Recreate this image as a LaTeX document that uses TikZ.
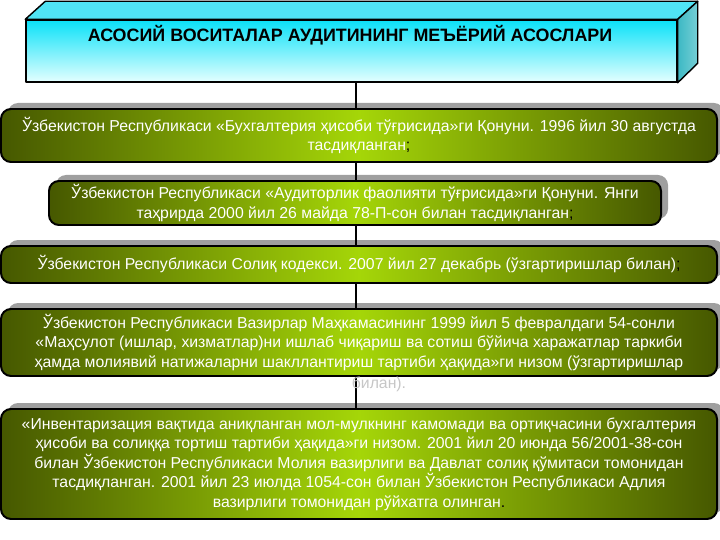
\documentclass[tikz,border=0pt]{standalone}
\usepackage{fontspec}
\setmainfont{Liberation Sans}
\usepackage{tikz}
\usetikzlibrary{calc}
\usetikzlibrary{shadows}
\definecolor{olivedark}{RGB}{70,88,0}
\definecolor{olivelight}{RGB}{165,214,8}
\definecolor{cyantop}{RGB}{10,225,248}
\definecolor{cyanbot}{RGB}{228,255,255}
\definecolor{cyanlid}{RGB}{80,228,245}
\definecolor{cyanside}{RGB}{60,185,196}
\tikzset{
	law/.style={
		rectangle,
		rounded corners=10pt,
		draw=black,
		line width=.7mm,
		left color=olivedark,
		right color=olivedark,
		middle color=olivelight,
		general shadow={shadow xshift=7pt,shadow yshift=6pt,fill=gray!75},
		text=white,
		align=center,
		inner sep=0,
		font=\fontsize{15.8}{19.5}\selectfont,
	},
	face/.style={
		draw=black,
		line width=.5mm,
		line join=round,
	},
	spine/.style={
		line width=.5mm,
	}
}

\begin{document}
\begin{tikzpicture}[x=1pt,y=-1pt]
								
								\useasboundingbox (0,0) rectangle (720,540);
								\coordinate (axis) at (356,0);
								
								% title box
								\node[face,top color=cyantop,bottom color=cyanbot,minimum width=651pt,minimum height=62pt,inner sep=0] (t) at (351.5,51) {};
								\filldraw[face,fill=cyanlid] (t.north west) -- ++(20,-18) -- ($(t.north east)+(20,-18)$) -- (t.north east) -- cycle;
								\shade[face,left color=cyanside,right color=cyanside!70!white] (t.north east) -- ++(20,-18) -- ++(0,62) -- (t.south east) -- cycle;
								\node[font=\fontsize{17.9}{20}\selectfont\bfseries] (ttl) at (350,35) {АСОСИЙ ВОСИТАЛАР АУДИТИНИНГ МЕЪЁРИЙ АСОСЛАРИ};
								
								\node[law,minimum width=716pt,minimum height=53pt] (b1) at (359,135.5) {Ўзбекистон Республикаси «Бухгалтерия ҳисоби тўғрисида»ги Қонуни. 1996 йил 30 августда\\ тасдиқланган\textcolor{black}{;}};
								\node[law,minimum width=612pt,minimum height=44pt] (b2) at (355,203) {Ўзбекистон Республикаси «Аудиторлик фаолияти тўғрисида»ги Қонуни. Янги\\ таҳрирда 2000 йил 26 майда 78-П-сон билан тасдиқланган\textcolor{black}{;}};
								\node[law,minimum width=716pt,minimum height=37pt] (b3) at (359,264.5) {Ўзбекистон Республикаси Солиқ кодекси. 2007 йил 27 декабрь (ўзгартиришлар билан)\textcolor{black}{;}};
								\node[law,minimum width=716pt,minimum height=67pt] (b4) at (359,342.5) {Ўзбекистон Республикаси Вазирлар Маҳкамасининг 1999 йил 5 февралдаги 54-сонли\\ «Маҳсулот (ишлар, хизматлар)ни ишлаб чиқариш ва сотиш бўйича харажатлар таркиби\\ ҳамда молиявий натижаларни шакллантириш тартиби ҳақида»ги низом (ўзгартиришлар};
								\node[law,minimum width=716pt,minimum height=110pt] (b5) at (359,464) {«Инвентаризация вақтида аниқланган мол-мулкнинг камомади ва ортиқчасини бухгалтерия\\ ҳисоби ва солиққа тортиш тартиби ҳақида»ги низом. 2001 йил 20 июнда 56/2001-38-сон\\ билан Ўзбекистон Республикаси Молия вазирлиги ва Давлат солиқ қўмитаси томонидан\\ тасдиқланган. 2001 йил 23 июлда 1054-сон билан Ўзбекистон Республикаси Адлия\\ вазирлиги томонидан рўйхатга олинган\textcolor{black}{.}};
								
								\foreach \a/\b in {t/b1,b1/b2,b2/b3,b3/b4,b4/b5}
									\draw[spine] (\a.south -| axis) -- (\b.north -| axis);
								
								\node[text=gray!45,font=\fontsize{15.8}{19.5}\selectfont] (b4tail) at (379,384) {билан).};
								
							\end{tikzpicture}
\end{document}
